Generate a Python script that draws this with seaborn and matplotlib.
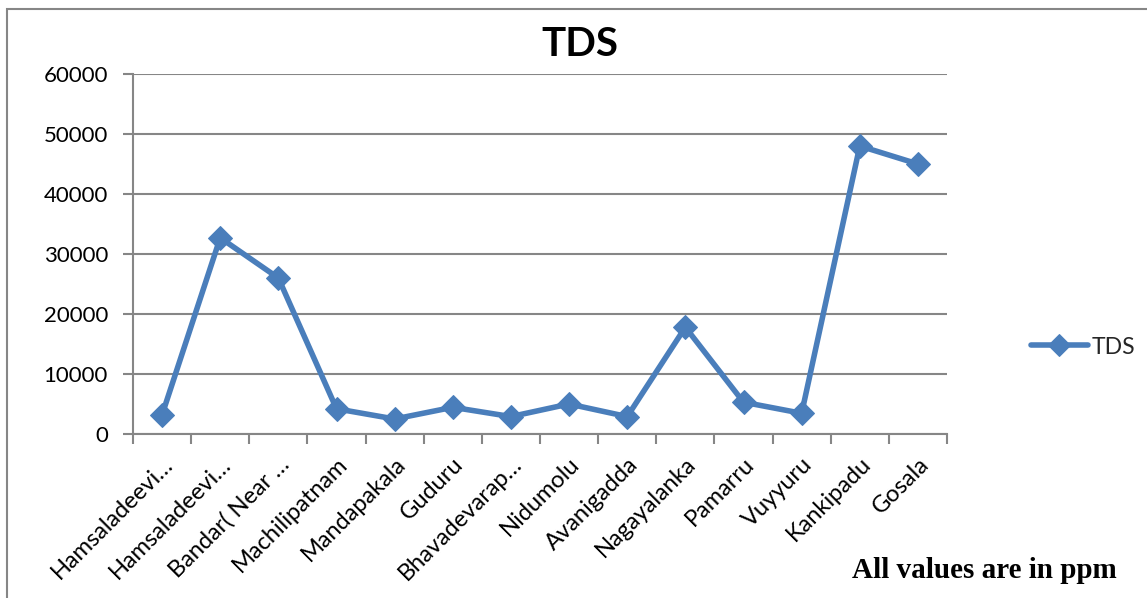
import matplotlib
matplotlib.use("Agg")
import matplotlib.pyplot as plt
import seaborn as sns
import pandas as pd
from matplotlib.patches import Rectangle

# Sampling sites and their total dissolved solids (ppm)
sites = [
    "Hamsaladeevi…", "Hamsaladeevi…", "Bandar( Near …", "Machilipatnam",
    "Mandapakala", "Guduru", "Bhavadevarap…", "Nidumolu", "Avanigadda",
    "Nagayalanka", "Pamarru", "Vuyyuru", "Kankipadu", "Gosala",
]
tds = [3200, 32700, 26000, 4200, 2500, 4450, 2900, 5000, 2900,
       17800, 5300, 3450, 48000, 45000]
y_ticks = [0, 10000, 20000, 30000, 40000, 50000, 60000]

sns.set_theme(style="white")
plt.rcParams["font.family"] = ["Lato", "DejaVu Sans"]

line_color = "#4a7ebb"
grid_color = "#868686"

df = pd.DataFrame({"pos": range(len(sites)), "TDS": tds})

fig = plt.figure(figsize=(11.47, 5.98), dpi=100)
ax = fig.add_axes([133 / 1147, 1 - 434 / 598, (947 - 133) / 1147, (434 - 74) / 598])

sns.lineplot(data=df, x="pos", y="TDS", ax=ax, color=line_color, linewidth=4,
             marker="D", markersize=12, markeredgecolor=line_color,
             label="TDS", legend=False)

ax.set_xlim(-0.5, len(sites) - 0.5)
ax.set_ylim(0, 60000)
ax.set_yticks(y_ticks)
ax.set_yticklabels([str(v) for v in y_ticks], fontsize=16, color="black")
ax.set_xticks(range(len(sites)))
ax.set_xticklabels(sites, rotation=45, ha="right", rotation_mode="anchor",
                   fontsize=17, color="black")
ax.tick_params(axis="x", length=0, pad=14)
ax.tick_params(axis="y", length=7, width=1.5, color=grid_color, pad=11,
               direction="out", left=True)
# tick marks on category boundaries
ax.set_xticks([i - 0.5 for i in range(len(sites) + 1)], minor=True)
ax.tick_params(axis="x", which="minor", length=7, width=1.5, color=grid_color,
               direction="out", bottom=True)
ax.set_xlabel("")
ax.set_ylabel("")

ax.yaxis.grid(True, color=grid_color, linewidth=1.5)
ax.set_axisbelow(True)
for side in ["top", "right"]:
    ax.spines[side].set_visible(False)
for side in ["left", "bottom"]:
    ax.spines[side].set_color(grid_color)
    ax.spines[side].set_linewidth(1.5)

fig.text(580 / 1147, 1 - 45 / 598, "TDS", ha="center", va="center",
         fontsize=29, fontweight="bold", color="black")

handles, labels = ax.get_legend_handles_labels()
fig.legend(handles, labels, loc="center left",
           bbox_to_anchor=(1010 / 1147, 1 - 347 / 598), frameon=False,
           fontsize=16.5, handlelength=2.5, handletextpad=0.15, markerscale=0.9)

fig.text(984 / 1147, 1 - 571 / 598, "All values are in ppm", ha="center",
         va="center", fontsize=21, fontweight="bold",
         family=["Liberation Serif", "DejaVu Serif"], color="black")

# outer chart frame
fig.patches.append(Rectangle((7 / 1147, -0.1), 1.2, 1 - 9 / 598 + 0.1,
                             transform=fig.transFigure, fill=False,
                             edgecolor=grid_color, linewidth=1.5))

fig.savefig("out.png", dpi=100)
